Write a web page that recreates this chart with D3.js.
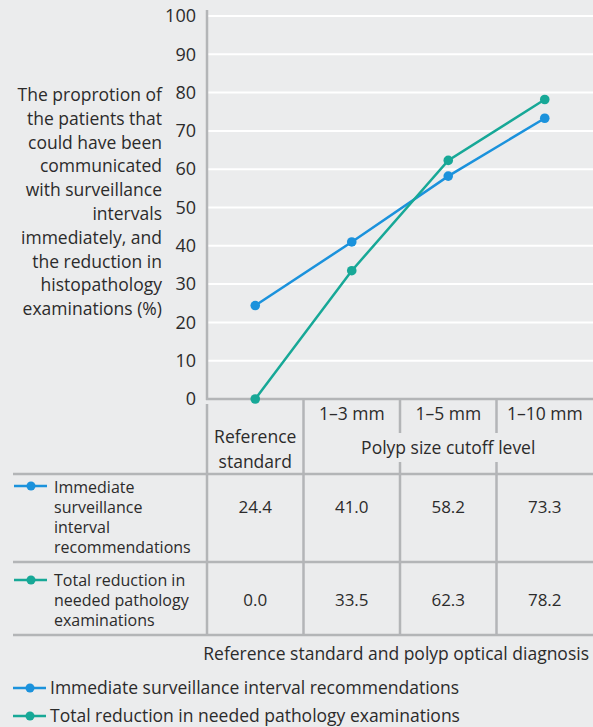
<!DOCTYPE html>
<html>
<head>
<meta charset="utf-8">
<script src="https://cdn.jsdelivr.net/npm/d3@7"></script>
<style>
  html, body { margin: 0; padding: 0; background: #ebeced; }
  svg { display: block; }
  text { font-family: "Open Sans", sans-serif; fill: #2b2b2b; }
</style>
</head>
<body>
<svg id="chart" width="593" height="727"></svg>
<script>
const categories = ["Reference standard", "1–3 mm", "1–5 mm", "1–10 mm"];
const headerLabels = ["", "1–3 mm", "1–5 mm", "1–10 mm"];
const seriesNames = ["Immediate surveillance interval recommendations", "Total reduction in needed pathology examinations"];
const rowLabelLines = [
  ["Immediate", "surveillance", "interval", "recommendations"],
  ["Total reduction in", "needed pathology", "examinations"]
];
const immediateValues = [24.4, 41.0, 58.2, 73.3];
const reductionValues = [0.0, 33.5, 62.3, 78.2];
const yTicks = [0, 10, 20, 30, 40, 50, 60, 70, 80, 90, 100];
const yTitleLines = ["The proprotion of", "the patients that", "could have been", "communicated", "with surveillance", "intervals", "immediately, and", "the reduction in", "histopathology", "examinations (%)"];
const xTitle = "Reference standard and polyp optical diagnosis";
const groupLabel = "Polyp size cutoff level";
const refLabelLines = ["Reference", "standard"];

const colors = ["#1b92dc", "#17a897"];
const gridGrey = "#b3b5b7";
const series = [immediateValues, reductionValues];

const svg = d3.select("#chart");
const x = d3.scaleBand().domain(categories).range([207, 593]).padding(0);
const y = d3.scaleLinear().domain([0, 100]).range([399, 16]);
const cx = d => x(d) + x.bandwidth() / 2;

// gridlines
svg.append("g").selectAll("line").data(yTicks.filter(t => t > 0)).join("line")
  .attr("x1", 208).attr("x2", 593)
  .attr("y1", d => y(d)).attr("y2", d => y(d))
  .attr("stroke", "#ffffff").attr("stroke-width", 2);

// y axis via d3.axisLeft
const yAxis = svg.append("g").attr("transform", "translate(207,0)")
  .call(d3.axisLeft(y).tickValues(yTicks).tickSize(0).tickPadding(11));
yAxis.select(".domain").remove();
yAxis.selectAll("text").attr("font-family", "Open Sans, sans-serif").attr("font-size", 18).attr("fill", "#2b2b2b");

// axis lines
svg.append("line").attr("x1", 207).attr("x2", 207).attr("y1", 10).attr("y2", 400)
  .attr("stroke", gridGrey).attr("stroke-width", 2.5);
svg.append("line").attr("x1", 206).attr("x2", 593).attr("y1", 399).attr("y2", 399)
  .attr("stroke", gridGrey).attr("stroke-width", 2.5);

// y title
svg.append("text").attr("text-anchor", "end").attr("font-size", 17.5)
  .selectAll("tspan").data(yTitleLines).join("tspan")
  .attr("x", 162).attr("y", (d, i) => 101 + i * 23.8).text(d => d);

// table lines
const tg = svg.append("g").attr("stroke", gridGrey).attr("stroke-width", 2.5);
tg.append("line").attr("x1", 207).attr("x2", 207).attr("y1", 404).attr("y2", 635);
tg.append("line").attr("x1", x(categories[1])).attr("x2", x(categories[1])).attr("y1", 400).attr("y2", 635);
[categories[2], categories[3]].forEach(c => {
  tg.append("line").attr("x1", x(c)).attr("x2", x(c)).attr("y1", 400).attr("y2", 433);
  tg.append("line").attr("x1", x(c)).attr("x2", x(c)).attr("y1", 462).attr("y2", 635);
});
[474, 562, 635].forEach(yy => tg.append("line").attr("x1", 13).attr("x2", 593).attr("y1", yy).attr("y2", yy));

// header labels
svg.append("g").selectAll("text").data(categories.slice(1)).join("text")
  .attr("x", d => cx(d)).attr("y", 420).attr("text-anchor", "middle").attr("font-size", 17.5)
  .text((d, i) => headerLabels[i + 1]);
svg.append("text").attr("text-anchor", "middle").attr("font-size", 17.5)
  .selectAll("tspan").data(refLabelLines).join("tspan")
  .attr("x", cx(categories[0])).attr("y", (d, i) => 443 + i * 25).text(d => d);
svg.append("text").attr("x", (x(categories[1]) + 593) / 2).attr("y", 454)
  .attr("text-anchor", "middle").attr("font-size", 17.5).text(groupLabel);

// table rows
const rowIconY = [486, 580];
const rowLabelY0 = [493, 586];
const rowValueY = [513, 606];
series.forEach((vals, si) => {
  const g = svg.append("g");
  g.append("line").attr("x1", 14).attr("x2", 47).attr("y1", rowIconY[si]).attr("y2", rowIconY[si])
    .attr("stroke", colors[si]).attr("stroke-width", 2.5);
  g.append("circle").attr("cx", 31).attr("cy", rowIconY[si]).attr("r", 4.5).attr("fill", colors[si]);
  g.append("text").attr("font-size", 16).selectAll("tspan").data(rowLabelLines[si]).join("tspan")
    .attr("x", 54).attr("y", (d, i) => rowLabelY0[si] + i * 20).text(d => d);
  g.selectAll("text.v").data(vals).join("text").attr("class", "v")
    .attr("x", (d, i) => cx(categories[i])).attr("y", rowValueY[si])
    .attr("text-anchor", "middle").attr("font-size", 17).text(d => d.toFixed(1));
});

// x title
svg.append("text").attr("x", 589).attr("y", 660).attr("text-anchor", "end").attr("font-size", 17.5).text(xTitle);

// lines and markers
const line = d3.line().x((d, i) => cx(categories[i])).y(d => y(d));
series.forEach((vals, si) => {
  svg.append("path").datum(vals).attr("d", line).attr("fill", "none")
    .attr("stroke", colors[si]).attr("stroke-width", 2.5);
  svg.append("g").selectAll("circle").data(vals).join("circle")
    .attr("cx", (d, i) => cx(categories[i])).attr("cy", d => y(d)).attr("r", 4.8).attr("fill", colors[si]);
});

// legend
const legY = [688, 716];
seriesNames.forEach((name, si) => {
  const g = svg.append("g");
  g.append("line").attr("x1", 13).attr("x2", 46).attr("y1", legY[si]).attr("y2", legY[si])
    .attr("stroke", colors[si]).attr("stroke-width", 2.5);
  g.append("circle").attr("cx", 30).attr("cy", legY[si]).attr("r", 4.5).attr("fill", colors[si]);
  g.append("text").attr("x", 50).attr("y", legY[si] + 6).attr("font-size", 17.5).text(name);
});
</script>
</body>
</html>
